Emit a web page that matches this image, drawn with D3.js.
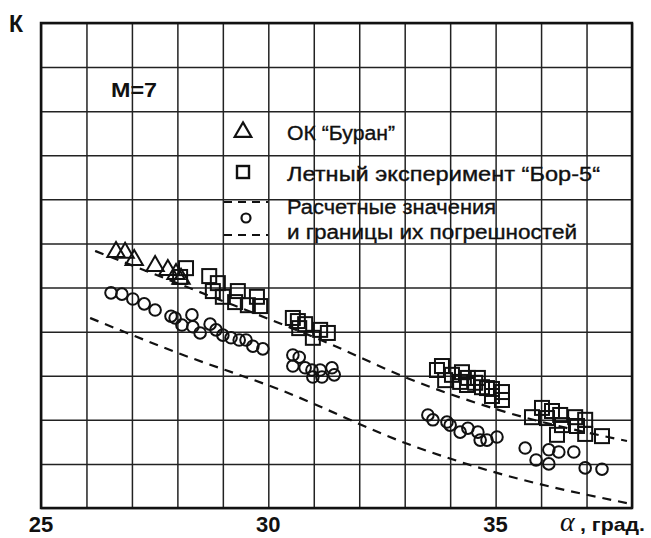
<!DOCTYPE html>
<html>
<head>
<meta charset="utf-8">
<script src="https://cdn.jsdelivr.net/npm/d3@7"></script>
<style>
  body { margin: 0; background: #fff; }
  text { font-family: "Liberation Sans", Arial, sans-serif; fill: #111; }
</style>
</head>
<body>
<div id="chart"></div>
<script>
// alpha (deg) vs K, y in grid units (no labels on the original)
const xLabels = [25, 30, 35];

const buran = [
  [26.65, 5.83], [26.85, 5.81], [27.05, 5.65], [27.51, 5.51],
  [27.79, 5.42], [27.97, 5.33], [28.08, 5.22]
];

const bor5 = [
  [28.06, 5.24], [28.19, 5.44], [28.70, 5.26], [28.78, 4.92], [28.89, 5.10],
  [29.00, 4.79], [29.33, 4.92], [29.27, 4.67], [29.55, 4.60], [29.75, 4.79], [29.82, 4.58],
  [30.54, 4.31], [30.65, 4.24], [30.68, 4.08], [30.81, 4.17], [30.98, 3.86],
  [31.14, 4.04], [31.31, 3.97],
  [33.71, 3.13], [33.82, 3.22], [33.89, 2.90], [34.04, 3.02], [34.26, 3.08],
  [34.22, 2.86], [34.37, 2.79], [34.39, 2.95], [34.55, 2.84], [34.61, 2.95],
  [34.70, 2.74], [34.81, 2.72], [34.92, 2.70], [34.92, 2.54], [35.14, 2.63], [35.14, 2.45],
  [35.80, 2.06], [36.02, 2.27], [36.24, 2.20], [36.13, 2.04], [36.42, 2.11],
  [36.46, 1.88], [36.35, 1.66], [36.75, 2.06], [36.79, 1.86], [36.97, 2.00],
  [36.97, 1.68], [37.34, 1.63]
];

const calc = [
  [26.54, 4.88], [26.78, 4.85], [27.02, 4.74], [27.27, 4.63], [27.51, 4.49],
  [27.86, 4.35], [27.95, 4.31], [28.10, 4.15], [28.32, 4.38], [28.34, 4.11],
  [28.50, 3.97], [28.72, 4.17], [28.85, 4.04], [29.00, 3.92], [29.18, 3.86],
  [29.36, 3.81], [29.51, 3.81], [29.66, 3.67], [29.88, 3.61],
  [30.54, 3.47], [30.68, 3.42], [30.54, 3.22], [30.81, 3.18], [30.96, 3.13],
  [30.98, 2.97], [31.14, 3.13], [31.18, 2.97], [31.40, 3.18], [31.45, 3.02],
  [33.51, 2.11], [33.62, 2.00], [33.93, 1.95], [34.00, 1.88], [34.22, 1.72],
  [34.39, 1.81], [34.61, 1.72], [34.66, 1.54], [34.81, 1.54], [35.03, 1.61],
  [35.65, 1.36], [35.89, 1.09], [36.17, 1.32], [36.39, 1.27], [36.72, 1.27],
  [36.17, 1.00], [36.97, 0.91], [37.34, 0.88]
];

const upperBound = [
  [26.19, 5.83], [28.39, 4.94], [31.36, 3.72], [33.05, 2.95], [35.21, 2.18], [37.89, 1.52]
];
const lowerBound = [
  [26.08, 4.31], [27.95, 3.54], [30.26, 2.68], [33.18, 1.41], [34.88, 0.84], [37.89, 0.11]
];

const W = 651, H = 538;
const margin = { top: 23, right: 19, bottom: 30, left: 41 },
      width = W - margin.left - margin.right,
      height = H - margin.top - margin.bottom;

const svgRoot = d3.select("#chart").append("svg")
  .attr("width", W).attr("height", H);

const svg = svgRoot.append("g")
  .attr("transform", `translate(${margin.left},${margin.top})`);

const x = d3.scaleLinear().domain([25, 38]).range([0, width]);
const y = d3.scaleLinear().domain([0, 11]).range([height, 0]);

// grid
svg.append("g")
   .attr("transform", `translate(0,${height})`)
   .call(d3.axisBottom(x).tickValues(d3.range(25, 39)).tickSize(-height).tickFormat(""))
   .call(g => g.select(".domain").remove())
   .call(g => g.selectAll("line").attr("stroke", "#222").attr("stroke-width", 1.5));

svg.append("g")
   .call(d3.axisLeft(y).tickValues(d3.range(0, 12)).tickSize(-width).tickFormat(""))
   .call(g => g.select(".domain").remove())
   .call(g => g.selectAll("line").attr("stroke", "#222").attr("stroke-width", 1.5));

// frame
svg.append("rect")
   .attr("width", width).attr("height", height)
   .attr("fill", "none").attr("stroke", "#111").attr("stroke-width", 2.5);

// x labels
svg.selectAll(".xl")
   .data(xLabels)
   .enter().append("text")
   .attr("x", d => x(d))
   .attr("y", height + 24)
   .attr("text-anchor", "middle")
   .style("font-size", "22px").style("font-weight", "bold")
   .text(d => d);

svgRoot.append("text")
   .attr("x", 560).attr("y", 531)
   .style("font-family", "'Liberation Serif', 'DejaVu Serif', serif")
   .style("font-style", "italic").style("font-size", "28px")
   .text("α");
svgRoot.append("text")
   .attr("x", 580).attr("y", 531)
   .attr("textLength", 65).attr("lengthAdjust", "spacingAndGlyphs")
   .style("font-size", "19px").style("font-weight", "bold")
   .text(", град.");

svgRoot.append("text")
   .attr("x", 9).attr("y", 32)
   .style("font-size", "23px").style("font-weight", "bold")
   .text("К");

svgRoot.append("text")
   .attr("x", 111).attr("y", 97)
   .attr("textLength", 46).attr("lengthAdjust", "spacingAndGlyphs")
   .style("font-size", "21px").style("font-weight", "bold")
   .text("M=7");

// dashed bounds
const line = d3.line().x(d => x(d[0])).y(d => y(d[1])).curve(d3.curveMonotoneX);
[upperBound, lowerBound].forEach(b => {
  svg.append("path")
     .datum(b)
     .attr("d", line)
     .attr("fill", "none")
     .attr("stroke", "#111")
     .attr("stroke-width", 2.2)
     .attr("stroke-dasharray", "9,7");
});

const mk = { fill: "none", stroke: "#111", sw: 2 };

// markers
svg.selectAll(".calc")
   .data(calc)
   .enter().append("circle")
   .attr("cx", d => x(d[0])).attr("cy", d => y(d[1]))
   .attr("r", 5.8)
   .attr("fill", mk.fill).attr("stroke", mk.stroke).attr("stroke-width", mk.sw);

svg.selectAll(".bor")
   .data(bor5)
   .enter().append("rect")
   .attr("x", d => x(d[0]) - 7).attr("y", d => y(d[1]) - 7)
   .attr("width", 14).attr("height", 14)
   .attr("fill", mk.fill).attr("stroke", mk.stroke).attr("stroke-width", mk.sw);

const tri = d3.symbol().type(d3.symbolTriangle).size(130);
svg.selectAll(".buran")
   .data(buran)
   .enter().append("path")
   .attr("d", tri)
   .attr("transform", d => `translate(${x(d[0])},${y(d[1]) + 1})`)
   .attr("fill", mk.fill).attr("stroke", mk.stroke).attr("stroke-width", mk.sw);

// legend
const lg = svgRoot.append("g");
lg.append("path").attr("d", d3.symbol().type(d3.symbolTriangle).size(120))
  .attr("transform", "translate(243,132)")
  .attr("fill", "none").attr("stroke", "#111").attr("stroke-width", 2.2);
lg.append("rect").attr("x", 237).attr("y", 166).attr("width", 12).attr("height", 12)
  .attr("fill", "none").attr("stroke", "#111").attr("stroke-width", 2.4);
lg.append("circle").attr("cx", 246).attr("cy", 218).attr("r", 4.5)
  .attr("fill", "none").attr("stroke", "#111").attr("stroke-width", 2.2);
[202, 235].forEach(yy => {
  lg.append("line").attr("x1", 224).attr("x2", 268).attr("y1", yy).attr("y2", yy)
    .attr("stroke", "#111").attr("stroke-width", 2).attr("stroke-dasharray", "8,6");
});

const legendText = [
  { y: 140, t: "ОК “Буран”", w: 108 },
  { y: 181, t: "Летный эксперимент “Бор-5“", w: 313 },
  { y: 214, t: "Расчетные значения", w: 209 },
  { y: 239, t: "и границы их погрешностей", w: 290 }
];
lg.selectAll(".lt")
  .data(legendText)
  .enter().append("text")
  .attr("x", 287).attr("y", d => d.y)
  .attr("textLength", d => d.w).attr("lengthAdjust", "spacingAndGlyphs")
  .style("font-size", "20px")
  .style("stroke", "#111").style("stroke-width", 0.35)
  .text(d => d.t);
</script>
</body>
</html>
